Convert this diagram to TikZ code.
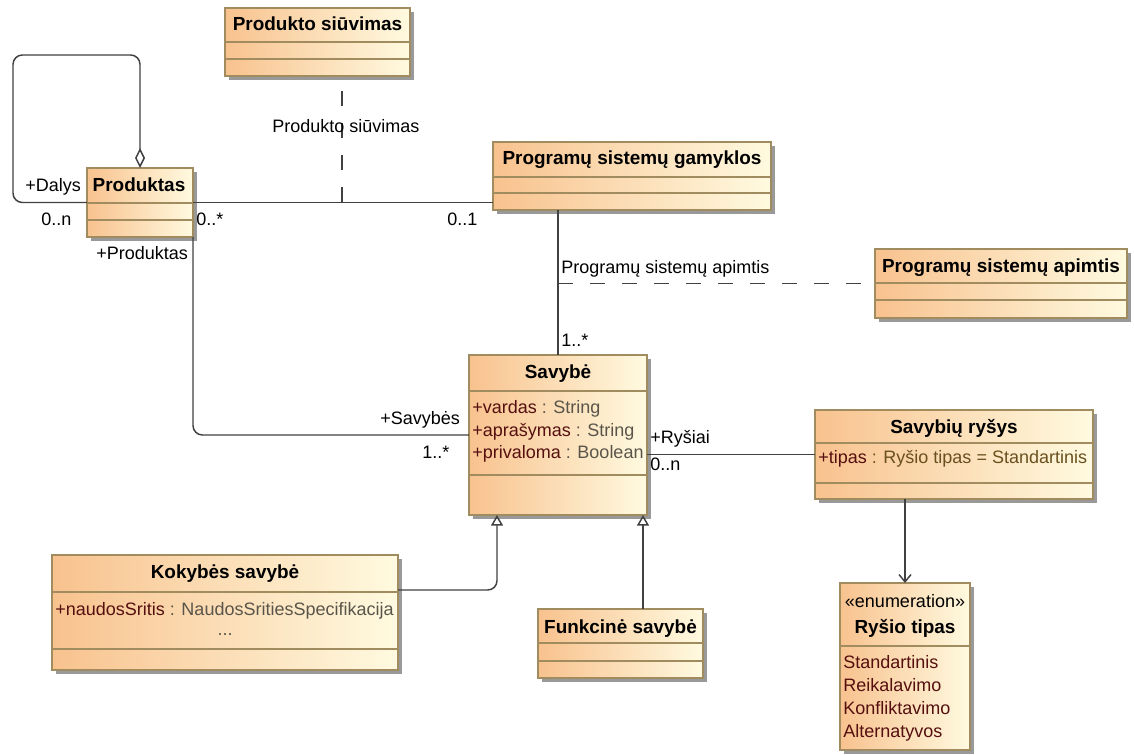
\documentclass[tikz,border=0pt]{standalone}
\usepackage{fontspec}
\setmainfont{Liberation Sans}
\usetikzlibrary{arrows.meta,fit,shadows}

\definecolor{peach}{RGB}{248,194,142}
\definecolor{cream}{RGB}{255,250,224}
\definecolor{boxline}{RGB}{160,140,95}
\definecolor{wire}{RGB}{65,65,65}
\definecolor{attrname}{RGB}{85,15,15}
\definecolor{attrtype}{RGB}{90,85,75}
\definecolor{deflt}{RGB}{105,80,30}

\tikzset{
  umlclass/.style={draw=boxline, line width=0.9pt, left color=peach, right color=cream,
    inner sep=0pt, outer sep=0pt,
    drop shadow={shadow xshift=3pt, shadow yshift=-3pt, fill=black!40, opacity=1}},
  sepline/.style={draw=boxline, line width=0.9pt},
  title/.style={font=\fontsize{14.2}{17}\selectfont\bfseries, inner sep=0pt, anchor=base},
  txt/.style={font=\fontsize{13.5}{16.9}\selectfont, inner sep=0pt, anchor=base west},
  ctxt/.style={font=\fontsize{13.5}{16.9}\selectfont, inner sep=0pt, anchor=base},
  assoc/.style={draw=wire, line width=1.1pt},
  dashline/.style={draw=wire, line width=1.1pt, dash pattern=on 11pt off 13pt},
  gen/.style={assoc, -{Triangle[open, length=8pt, width=9pt]}},
  aggr/.style={assoc, -{Diamond[open, length=15pt, width=7.5pt]}},
  nav/.style={assoc, -{Straight Barb[length=5.5pt, width=9pt]}},
}

% class rectangle spanning two corner points (pixel grid)
\newcommand{\umlbox}[5]{%
  \coordinate (#1-a) at (#2,#3);
  \coordinate (#1-b) at (#4,#5);
  \node[umlclass, fit=(#1-a)(#1-b)] (#1) {};}
% compartment separator
\newcommand{\umlsep}[3]{\draw[sepline] (#1,#3) -- (#2,#3);}
% attribute line: name and type
\newcommand{\attr}[2]{{\color{attrname}#1} {\color{attrtype}#2}}

\begin{document}
\begin{tikzpicture}[x=0.75pt, y=-0.75pt]
\useasboundingbox (0,0) rectangle (1134,755);

% ---- classes ----
\umlbox{siuv}{225}{8}{410}{76}
\umlsep{225}{410}{42}\umlsep{225}{410}{59}
\node[title] (siuvT) at (317.5,31) {Produkto siūvimas};

\umlbox{prod}{87}{168}{193}{237}
\umlsep{87}{193}{203}\umlsep{87}{193}{220}
\node[title] (prodT) at (139,192) {Produktas};

\umlbox{gam}{493}{142}{771}{210}
\umlsep{493}{771}{177}\umlsep{493}{771}{193}
\node[title] (gamT) at (632,165) {Programų sistemų gamyklos};

\umlbox{apim}{875}{249}{1127}{318}
\umlsep{875}{1127}{283}\umlsep{875}{1127}{300}
\node[title] (apimT) at (1001,273) {Programų sistemų apimtis};

\umlbox{sav}{469}{355}{647}{515}
\umlsep{469}{647}{391}\umlsep{469}{647}{475}
\node[title] (savT) at (558,378) {Savybė};
\node[txt] (savA1) at (472,413) {\attr{+vardas}{: String}};
\node[txt] (savA2) at (472,436) {\attr{+aprašymas}{: String}};
\node[txt] (savA3) at (472,458) {\attr{+privaloma}{: Boolean}};

\umlbox{rys}{815}{410}{1093}{499}
\umlsep{815}{1093}{443}\umlsep{815}{1093}{483}
\node[title] (rysT) at (954,433) {Savybių ryšys};
\node[txt] (rysA) at (818,463) {{\color{attrname}+tipas} {\color{deflt}: Ryšio tipas = Standartinis}};

\umlbox{rtip}{840}{583}{970}{750}
\umlsep{840}{970}{646}
\node[ctxt] (rtipS) at (905,607) {«enumeration»};
\node[title] (rtipT) at (905,633) {Ryšio tipas};
\node[txt, text=attrname] (rtipL1) at (843,668) {Standartinis};
\node[txt, text=attrname] (rtipL2) at (843,691) {Reikalavimo};
\node[txt, text=attrname] (rtipL3) at (843,714) {Konfliktavimo};
\node[txt, text=attrname] (rtipL4) at (843,737) {Alternatyvos};

\umlbox{kok}{52}{555}{398}{670}
\umlsep{52}{398}{592}\umlsep{52}{398}{649}
\node[title] (kokT) at (225,578) {Kokybės savybė};
\node[txt] (kokA) at (55,615) {\attr{+naudosSritis}{: NaudosSritiesSpecifikacija}};
\node[ctxt, text=attrtype] (kokE) at (225,635) {...};

\umlbox{fun}{538}{609}{703}{678}
\umlsep{538}{703}{643}\umlsep{538}{703}{661}
\node[title] (funT) at (620.5,633) {Funkcinė savybė};

% ---- connector anchor points ----
\coordinate (loopTop) at (13,55);
\coordinate (siuvJoin) at (342,202);
\coordinate (kokOut) at (398,590);
\coordinate (genQ) at (497,515);
\coordinate (genF) at (643,515);

% ---- associations ----
\draw[aggr, rounded corners=7pt] (prod.west) -| (loopTop) -| (prod.north);
\draw[assoc] (prod.east) -- (prod.east -| gam.west);
\draw[dashline] (siuvJoin) -- (siuvJoin |- siuv.south);
\draw[assoc] (sav.north |- gam.south) -- (sav.north);
\draw[dashline] (apim.west -| sav.north) -- (apim.west);
\draw[assoc, rounded corners=7pt] (prod.south east) |- (sav.west);
\draw[assoc] (rys.west -| sav.east) -- (rys.west);
\draw[nav] (rtip.north |- rys.south) -- (rtip.north);
\draw[gen, rounded corners=7pt] (kokOut) -| (genQ);
\draw[gen] (genF |- fun.north) -- (genF);

% ---- association labels ----
\node[txt] (lDalys) at (25,192) {+Dalys};
\node[txt] (lDalysM) at (41,226) {0..n};
\node[txt] (lProdM) at (196,226) {0..*};
\node[txt] (lGamM) at (447,226) {0..1};
\node[txt] (lProd) at (96,260) {+Produktas};
\node[txt] (lSiuv) at (272,133) {Produkto siūvimas};
\node[txt] (lApim) at (561,274) {Programų sistemų apimtis};
\node[txt] (lSavM1) at (561,346) {1..*};
\node[txt] (lSav) at (380,424) {+Savybės};
\node[txt] (lSavM2) at (422,458) {1..*};
\node[txt] (lRys) at (650,443) {+Ryšiai};
\node[txt] (lRysM) at (650,470) {0..n};
\end{tikzpicture}
\end{document}
